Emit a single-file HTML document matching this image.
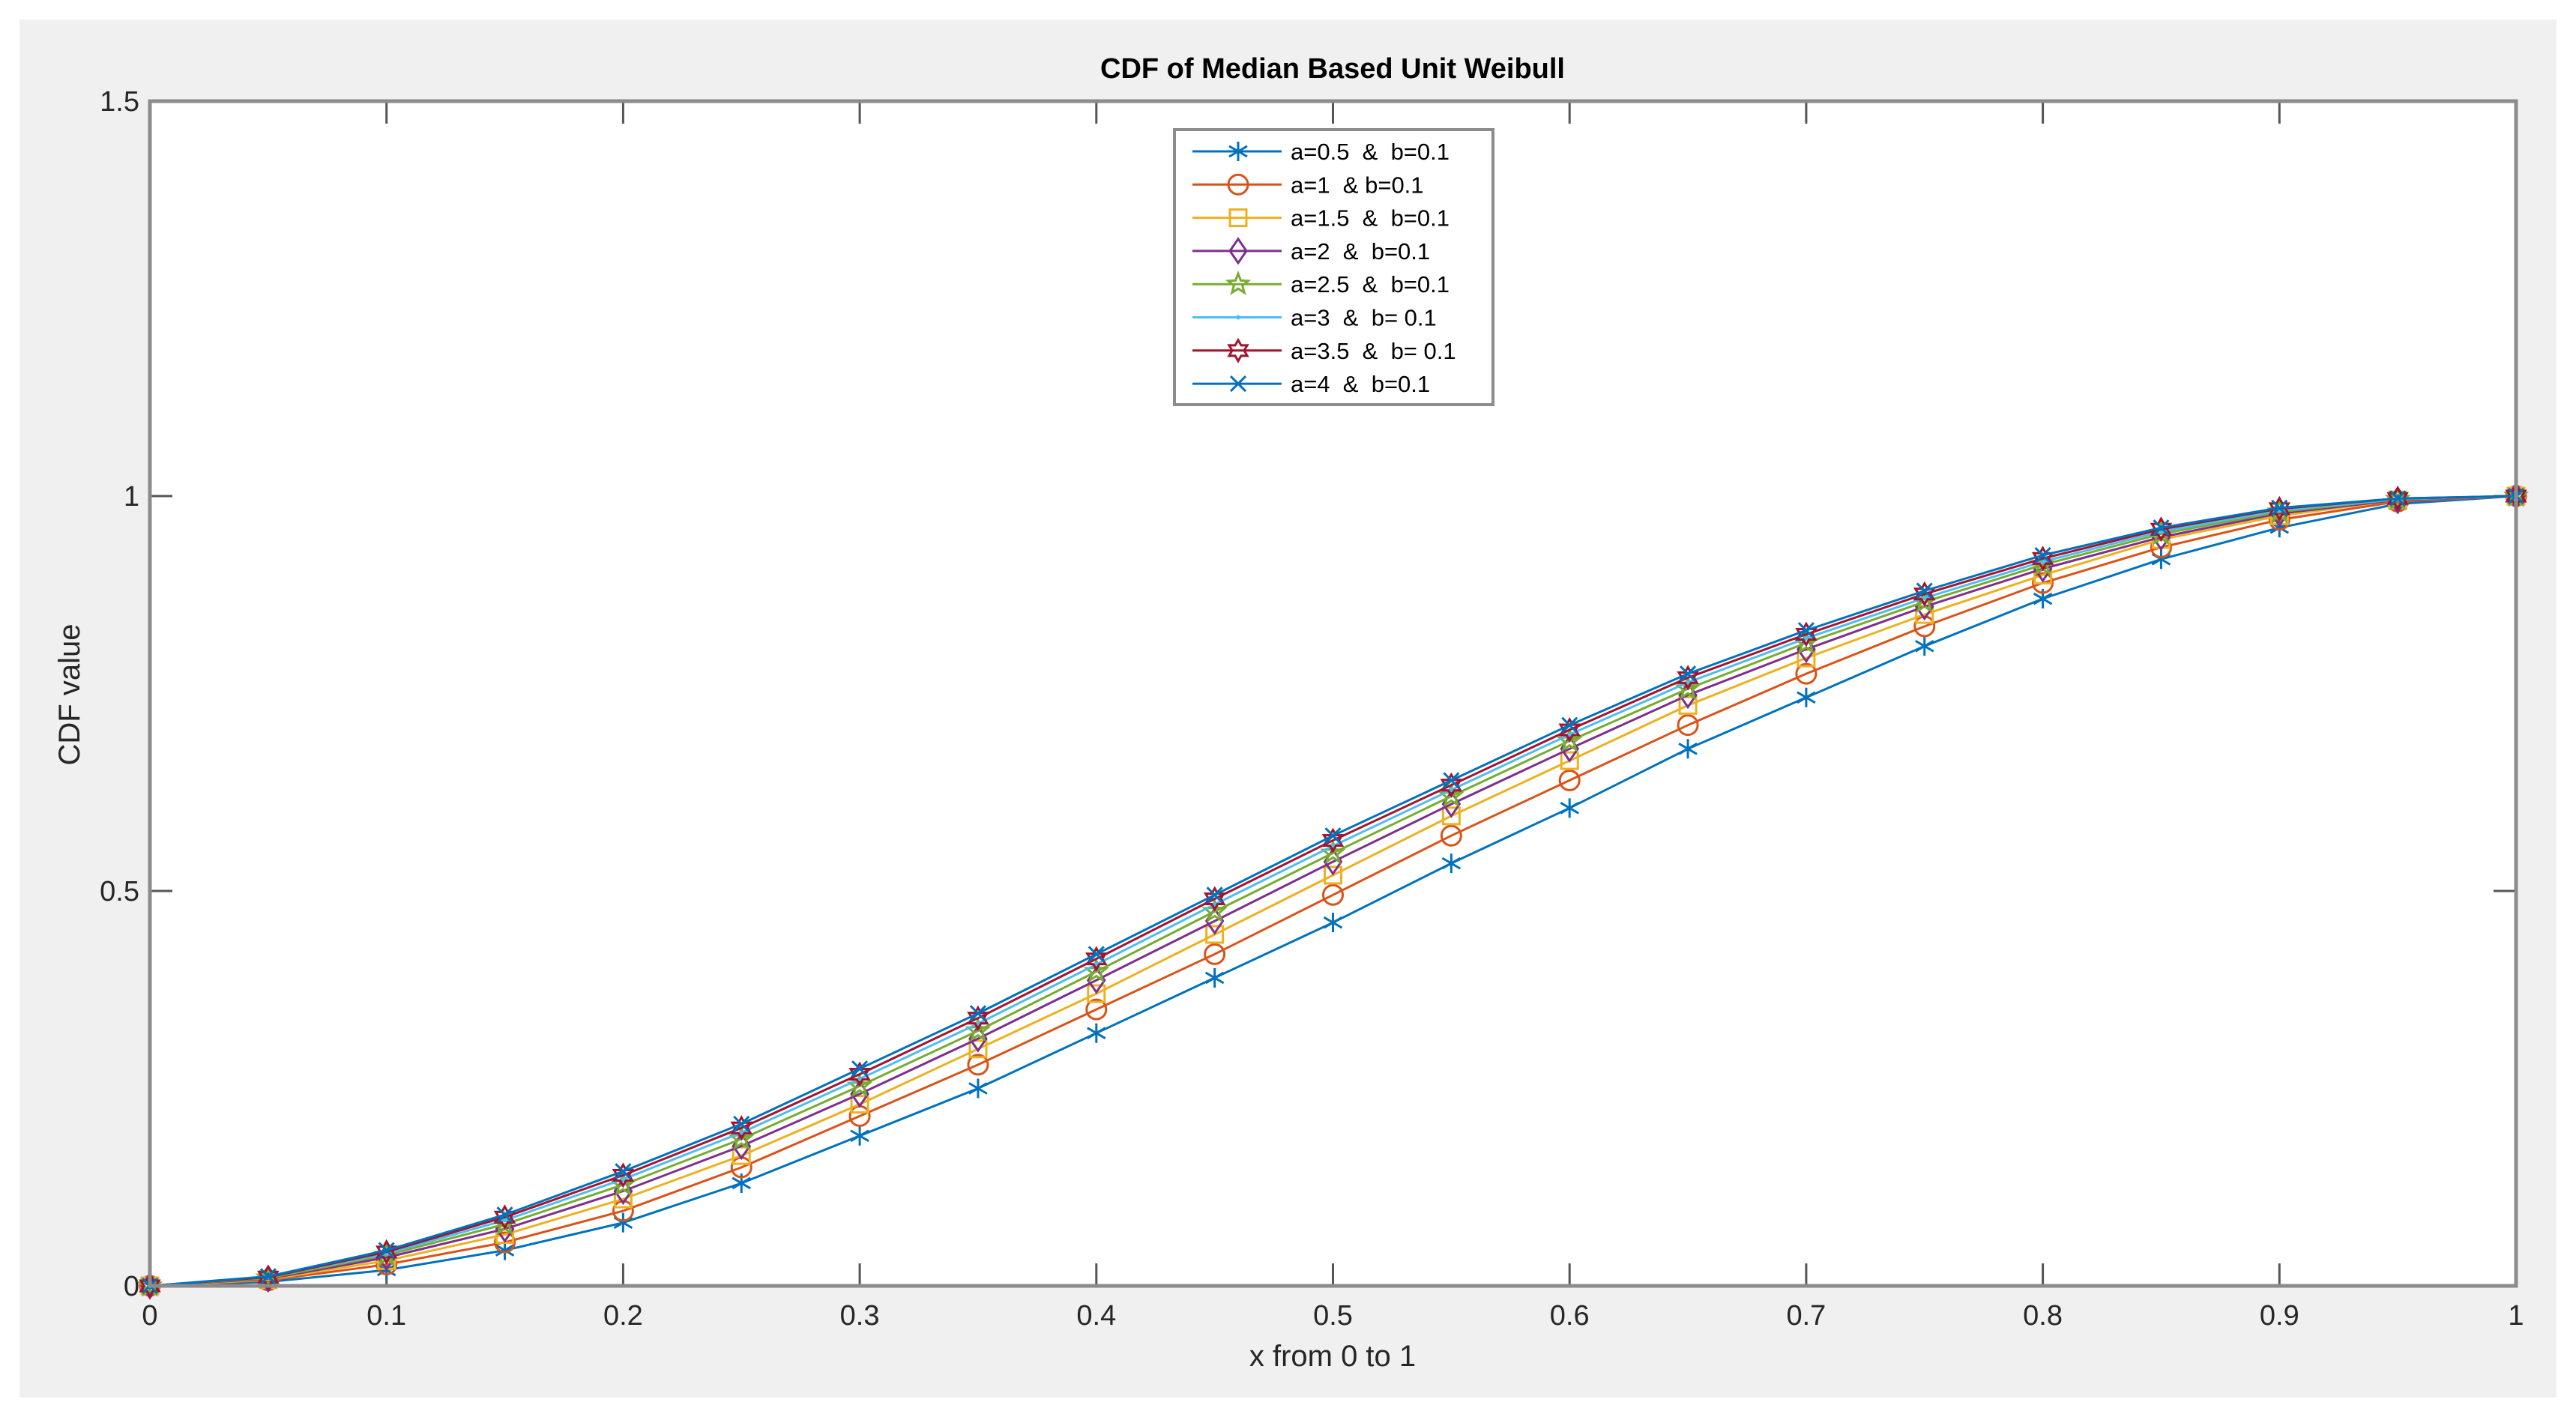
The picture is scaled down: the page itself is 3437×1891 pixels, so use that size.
<!DOCTYPE html>
<html><head><meta charset="utf-8"><style>
html,body{margin:0;padding:0;background:#fff;}
svg{display:block;font-family:"Liberation Sans",Arial,sans-serif;}
</style></head><body>
<svg id="chart" width="3437" height="1891" xmlns="http://www.w3.org/2000/svg">
<rect x="26" y="26" width="3385" height="1839" fill="#f0f0f0"/>
<rect x="200" y="135" width="3157" height="1581" fill="#ffffff"/>
<g id="ticks"></g>
<g id="series"></g>
<rect x="200" y="135" width="3157" height="1581" fill="none" stroke="#8c8c8c" stroke-width="5"/>
<text x="1778" y="104" font-size="38" font-weight="bold" text-anchor="middle" fill="#000">CDF of Median Based Unit Weibull</text>
<text x="1778" y="1823" font-size="40" text-anchor="middle" fill="#262626">x from 0 to 1</text>
<text x="0" y="0" font-size="40" text-anchor="middle" fill="#262626" transform="translate(106,927) rotate(-90)">CDF value</text>
<g id="legend"></g>
</svg>
<script>
const xVals=[0,.05,.1,.15,.2,.25,.3,.35,.4,.45,.5,.55,.6,.65,.7,.75,.8,.85,.9,.95,1];
const yA05=[0,.005,.02,.045,.08,.13,.19,.25,.32,.39,.46,.535,.605,.68,.745,.81,.87,.92,.96,.99,1];
const yA1=[0,.007,.027,.055,.095,.15,.215,.28,.35,.42,.495,.57,.64,.71,.775,.835,.89,.935,.97,.993,1];
const yA15=[0,.008,.032,.065,.11,.165,.23,.3,.37,.445,.52,.595,.665,.735,.795,.85,.9,.945,.975,.995,1];
const yA2=[0,.009,.036,.072,.12,.177,.243,.313,.387,.462,.537,.61,.68,.748,.806,.86,.908,.948,.978,.995,1];
const yA25=[0,.010,.039,.078,.128,.186,.253,.323,.398,.474,.548,.62,.69,.756,.814,.866,.913,.952,.98,.996,1];
const yA3=[0,.011,.041,.083,.135,.194,.262,.332,.407,.483,.557,.628,.698,.764,.82,.871,.917,.955,.982,.996,1];
const yA35=[0,.011,.043,.087,.14,.2,.268,.339,.414,.49,.564,.634,.704,.77,.825,.876,.921,.958,.984,.997,1];
const yA4=[0,.012,.045,.09,.145,.205,.275,.345,.42,.495,.57,.64,.71,.775,.83,.88,.925,.96,.985,.997,1];
const seriesLabels=["a=0.5  &  b=0.1","a=1  & b=0.1","a=1.5  &  b=0.1","a=2  &  b=0.1","a=2.5  &  b=0.1","a=3  &  b= 0.1","a=3.5  &  b= 0.1","a=4  &  b=0.1"];
const xTicks=[0,.1,.2,.3,.4,.5,.6,.7,.8,.9,1];
const xTickLabels=["0","0.1","0.2","0.3","0.4","0.5","0.6","0.7","0.8","0.9","1"];
const yTicks=[0,.5,1,1.5];
const yTickLabels=["0","0.5","1","1.5"];

const allY=[yA05,yA1,yA15,yA2,yA25,yA3,yA35,yA4];
const colors=["#0072BD","#D95319","#EDB120","#7E2F8E","#77AC30","#4DBEEE","#A2142F","#0072BD"];
const markers=["star","circle","square","diamond","pent","dot","hex","x"];
const NS="http://www.w3.org/2000/svg";
const L=200,R=3357,T=135,B=1716;
const sx=v=>L+(R-L)*v;
const sy=v=>B-(B-T)*v/1.5;
function mk(tag,attrs,parent){const e=document.createElementNS(NS,tag);for(const k in attrs)e.setAttribute(k,attrs[k]);parent.appendChild(e);return e;}
function polyPts(cx,cy,n,r1,r2,rot){let p=[];for(let i=0;i<n*2;i++){const r=i%2?r2:r1;const a=rot+Math.PI*i/n;p.push((cx+r*Math.sin(a)).toFixed(1)+","+(cy-r*Math.cos(a)).toFixed(1));}return p.join(" ");}
function marker(type,cx,cy,c,g){
  const s=13;let e;
  if(type==="circle")e=mk("circle",{cx,cy,r:s,fill:"none",stroke:c,"stroke-width":3},g);
  else if(type==="square")e=mk("rect",{x:cx-11,y:cy-11,width:22,height:22,fill:"none",stroke:c,"stroke-width":3},g);
  else if(type==="diamond")e=mk("polygon",{points:`${cx},${cy-16} ${cx+11},${cy} ${cx},${cy+16} ${cx-11},${cy}`,fill:"none",stroke:c,"stroke-width":3},g);
  else if(type==="pent")e=mk("polygon",{points:polyPts(cx,cy,5,14,6,0),fill:"none",stroke:c,"stroke-width":3},g);
  else if(type==="hex")e=mk("polygon",{points:polyPts(cx,cy,6,14,8,0),fill:"none",stroke:c,"stroke-width":3},g);
  else if(type==="dot")e=mk("circle",{cx,cy,r:3,fill:c},g);
  else if(type==="x")e=mk("path",{d:`M${cx-10},${cy-10}L${cx+10},${cy+10}M${cx-10},${cy+10}L${cx+10},${cy-10}`,stroke:c,"stroke-width":3},g);
  else e=mk("path",{d:`M${cx},${cy-13}V${cy+13}M${cx-12},${cy-7}L${cx+12},${cy+7}M${cx-12},${cy+7}L${cx+12},${cy-7}`,stroke:c,"stroke-width":3},g);
  
  
}
const tg=document.getElementById("ticks");
xTicks.forEach((v,i)=>{
  const x=sx(v);
  const l1=mk("line",{x1:x,y1:B,x2:x,y2:B-30,stroke:"#555","stroke-width":3},tg);
  
  
  const l2=mk("line",{x1:x,y1:T,x2:x,y2:T+30,stroke:"#555","stroke-width":3},tg);
  
  
  const t=mk("text",{x:x,y:1768,"font-size":38,"text-anchor":"middle",fill:"#262626"},tg);
  t.textContent=xTickLabels[i];
  
  
});
yTicks.forEach((v,i)=>{
  const y=sy(v);
  const l1=mk("line",{x1:L,y1:y,x2:L+30,y2:y,stroke:"#555","stroke-width":3},tg);
  
  
  const l2=mk("line",{x1:R,y1:y,x2:R-30,y2:y,stroke:"#555","stroke-width":3},tg);
  
  
  const t=mk("text",{x:186,y:y+13,"font-size":38,"text-anchor":"end",fill:"#262626"},tg);
  t.textContent=yTickLabels[i];
  
  
});
const sg=document.getElementById("series");
allY.forEach((ys,si)=>{
  const g=mk("g",{},sg);
  
  
  const pts=xVals.map((x,i)=>sx(x).toFixed(1)+","+sy(ys[i]).toFixed(1)).join(" ");
  const pl=mk("polyline",{points:pts,fill:"none",stroke:colors[si],"stroke-width":3},g);
  
  
  xVals.forEach((x,i)=>marker(markers[si],sx(x),sy(ys[i]),colors[si],g));
});
const lg=document.getElementById("legend");
const box=mk("rect",{x:1567,y:173,width:425,height:367,fill:"#fff",stroke:"#8c8c8c","stroke-width":4},lg);


seriesLabels.forEach((lab,i)=>{
  const y=202+i*44.3;
  const g=mk("g",{},lg);
  
  
  mk("line",{x1:1591,y1:y,x2:1710,y2:y,stroke:colors[i],"stroke-width":3},g);
  marker(markers[i],1652,y,colors[i],g);
  const t=mk("text",{x:1722,y:y+11,"font-size":31,fill:"#000","xml:space":"preserve"},g);
  t.style.whiteSpace="pre";
  t.textContent=lab;
  
  
});
</script>
</body></html>
